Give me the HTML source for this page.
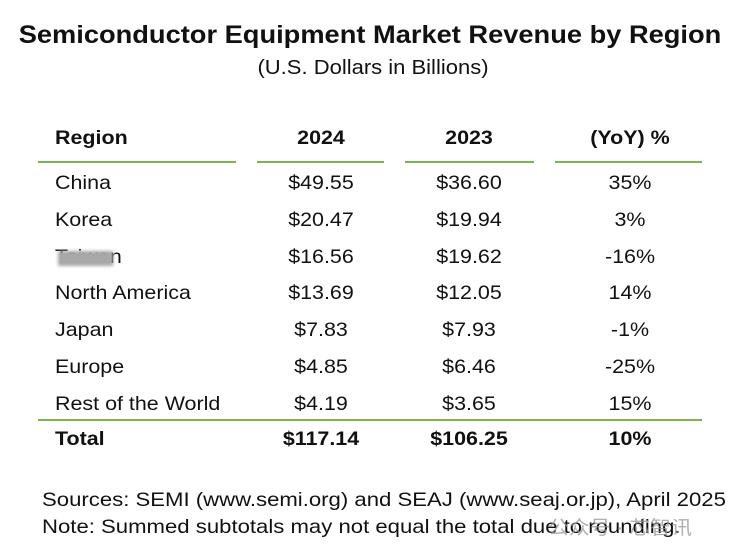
<!DOCTYPE html>
<html><head><meta charset="utf-8"><style>
body{margin:0;width:740px;height:560px;background:#fff;position:relative;overflow:hidden;font-family:"Liberation Sans","Noto Sans CJK SC",sans-serif;color:#111}
.a{position:absolute;white-space:nowrap;line-height:1;transform:scaleX(1.1);transform-origin:left center}
.c{transform:translateX(-50%) scaleX(1.1);transform-origin:center}
.t{font-size:19.5px}
.b{font-weight:bold}
.ln{position:absolute;height:2px;background:#7ab648}
</style></head><body>
<div class="a c b" style="left:370px;top:23px;font-size:25px;transform:translateX(-50%) scaleX(1.09)">Semiconductor Equipment Market Revenue by Region</div>
<div class="a c" style="left:373px;top:58px;font-size:20px">(U.S. Dollars in Billions)</div>
<div>
<div class="a t b" style="left:55px;top:129px">Region</div>
<div class="a t b c" style="left:321px;top:129px">2024</div>
<div class="a t b c" style="left:469px;top:129px">2023</div>
<div class="a t b c" style="left:630px;top:129px">(YoY) %</div>
<div class="ln" style="left:38px;width:198px;top:161px"></div>
<div class="ln" style="left:257px;width:127px;top:161px"></div>
<div class="ln" style="left:405px;width:129px;top:161px"></div>
<div class="ln" style="left:555px;width:147px;top:161px"></div>
<div id="rows"></div>
<div class="ln" style="left:38px;width:664px;top:419px"></div>
<div class="a t b" style="left:55px;top:430px">Total</div>
<div class="a t b c" style="left:321px;top:430px">$117.14</div>
<div class="a t b c" style="left:469px;top:430px">$106.25</div>
<div class="a t b c" style="left:630px;top:430px">10%</div>
</div>
<div class="a t" style="left:42px;top:491px;transform:scaleX(1.135)">Sources: SEMI (www.semi.org) and SEAJ (www.seaj.or.jp), April 2025</div>
<div class="a t" style="left:42px;top:518px;transform:scaleX(1.135)">Note: Summed subtotals may not equal the total due to rounding.</div>
<div class="a" style="left:548px;top:519px;font-size:19px;color:rgba(150,150,150,0.75)">公众号 · 芯智讯</div>
<script>
const regions=["China","Korea","Taiwan","North America","Japan","Europe","Rest of the World"];
const v2024=["$49.55","$20.47","$16.56","$13.69","$7.83","$4.85","$4.19"];
const v2023=["$36.60","$19.94","$19.62","$12.05","$7.93","$6.46","$3.65"];
const yoy=["35%","3%","-16%","14%","-1%","-25%","15%"];
const rows=document.getElementById('rows');
function cell(txt,left,top,center,name){
 const d=document.createElement('div');
 d.className='a t'+(center?' c':'');
 d.style.left=left+'px';d.style.top=top+'px';d.textContent=txt;
 
 
 rows.appendChild(d);return d;
}
regions.forEach((r,i)=>{
 const y=174+i*36.8;
 const k=r.toLowerCase().replace(/ /g,'-');
 cell(r,55,y,false,'region-'+k);
 cell(v2024[i],321,y,true,'value-2024-'+k);
 cell(v2023[i],469,y,true,'value-2023-'+k);
 cell(yoy[i],630,y,true,'yoy-'+k);
 if(r==="Taiwan"){
  const m=document.createElement('div');
  m.style.cssText='position:absolute;left:58px;top:'+(y+3)+'px;width:55px;height:15px;background:#a8a8a8;filter:blur(1.5px)';
  
  
  rows.appendChild(m);
 }
});
</script>
</body></html>
